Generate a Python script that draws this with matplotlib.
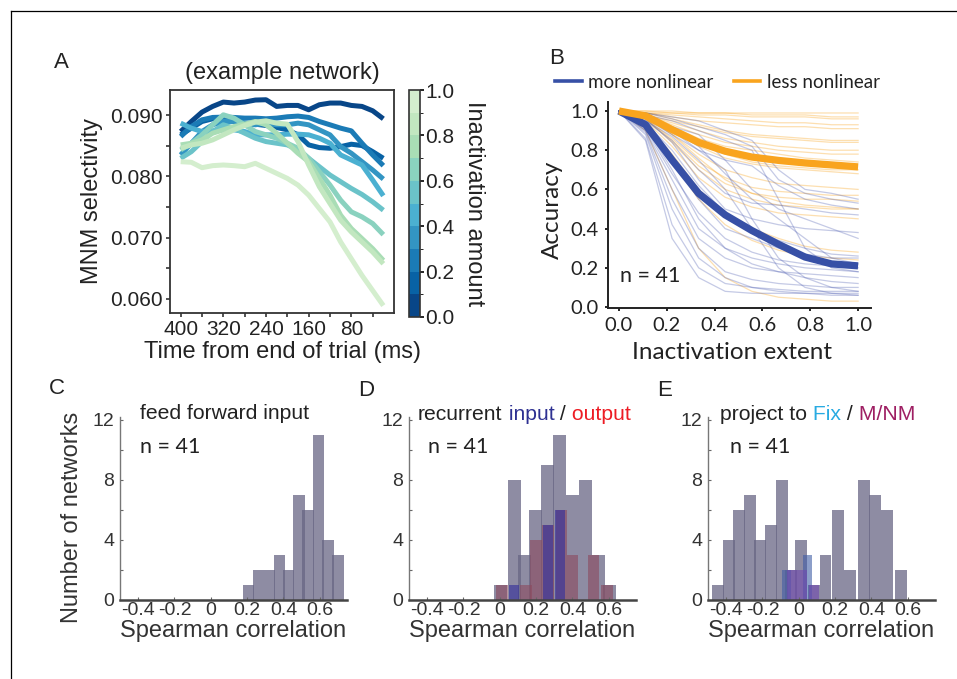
import numpy as np
import matplotlib
matplotlib.use("Agg")
import matplotlib.pyplot as plt
from matplotlib.colors import ListedColormap, BoundaryNorm
from matplotlib.lines import Line2D
import matplotlib.colorbar as mcolorbar

plt.rcParams['font.family'] = ['Liberation Sans', 'DejaVu Sans']
plt.rcParams['axes.unicode_minus'] = False

# ---------------- panel A data: selectivity over time per inactivation level
times = [400, 380, 360, 340, 320, 300, 280, 260, 240, 220,
         200, 180, 160, 140, 120, 100, 80, 60, 40, 20]
inact_levels = [0.0, 0.1, 0.2, 0.3, 0.4, 0.5, 0.6, 0.7, 0.8, 0.9]
sel_00 = [0.08732, 0.08896, 0.09049, 0.09142, 0.09213, 0.09197, 0.09213, 0.09246, 0.09251, 0.09142,
          0.09158, 0.09158, 0.09087, 0.09169, 0.09197, 0.09197, 0.09158, 0.09142, 0.09071, 0.08940]
sel_01 = [0.08678, 0.08787, 0.08896, 0.08940, 0.08923, 0.08896, 0.08869, 0.08852, 0.08831, 0.08798,
          0.08760, 0.08678, 0.08514, 0.08470, 0.08459, 0.08486, 0.08525, 0.08503, 0.08404, 0.08295]
sel_02 = [0.08650, 0.08814, 0.08923, 0.08962, 0.08967, 0.08962, 0.08951, 0.08951, 0.08940, 0.08951,
          0.08973, 0.08984, 0.08962, 0.08896, 0.08842, 0.08787, 0.08743, 0.08541, 0.08350, 0.08175]
sel_03 = [0.08350, 0.08541, 0.08732, 0.08842, 0.08896, 0.08896, 0.08869, 0.08842, 0.08869, 0.08842,
          0.08842, 0.08869, 0.08842, 0.08760, 0.08678, 0.08486, 0.08377, 0.08240, 0.08104, 0.07956]
sel_04 = [0.08869, 0.08787, 0.08732, 0.08743, 0.08760, 0.08760, 0.08732, 0.08678, 0.08678, 0.08678,
          0.08689, 0.08689, 0.08678, 0.08623, 0.08541, 0.08350, 0.08268, 0.08186, 0.07940, 0.07683]
sel_05 = [0.08295, 0.08404, 0.08568, 0.08732, 0.08842, 0.08787, 0.08705, 0.08623, 0.08568, 0.08541,
          0.08514, 0.08432, 0.08295, 0.08158, 0.08022, 0.07913, 0.07803, 0.07705, 0.07585, 0.07448]
sel_06 = [0.08432, 0.08541, 0.08678, 0.08842, 0.09005, 0.08951, 0.08842, 0.08732, 0.08678, 0.08623,
          0.08541, 0.08459, 0.08295, 0.08077, 0.07858, 0.07612, 0.07421, 0.07339, 0.07230, 0.07049]
sel_07 = [0.08514, 0.08541, 0.08596, 0.08705, 0.08760, 0.08814, 0.08852, 0.08896, 0.08842, 0.08705,
          0.08541, 0.08377, 0.08240, 0.07967, 0.07694, 0.07366, 0.07148, 0.06984, 0.06820, 0.06628]
sel_08 = [0.08459, 0.08514, 0.08541, 0.08596, 0.08678, 0.08760, 0.08831, 0.08885, 0.08907, 0.08869,
          0.08852, 0.08568, 0.08186, 0.07831, 0.07557, 0.07284, 0.07093, 0.06929, 0.06765, 0.06574]
sel_09 = [0.08240, 0.08230, 0.08142, 0.08175, 0.08186, 0.08175, 0.08158, 0.08213, 0.08131, 0.08049,
          0.07967, 0.07858, 0.07694, 0.07475, 0.07257, 0.06929, 0.06656, 0.06383, 0.06137, 0.05891]
sel_lines = [sel_00, sel_01, sel_02, sel_03, sel_04, sel_05, sel_06, sel_07, sel_08, sel_09]

# ---------------- panel B data: accuracy vs inactivation extent
extent = [0.0, 0.111, 0.222, 0.333, 0.444, 0.556, 0.667, 0.778, 0.889, 1.0]
more_mean = [1.0, 0.93, 0.75, 0.58, 0.47, 0.39, 0.32, 0.255, 0.22, 0.21]
less_mean = [1.0, 0.975, 0.905, 0.84, 0.795, 0.765, 0.748, 0.735, 0.725, 0.715]
more_nets = [
    [1, .97, .90, .80, .75, .72, .62, .55, .52, .50],
    [1, .95, .85, .70, .58, .53, .52, .50, .48, .47],
    [1, .90, .60, .35, .25, .20, .18, .17, .16, .15],
    [1, .85, .35, .15, .08, .07, .07, .07, .07, .07],
    [1, .88, .50, .25, .15, .10, .08, .07, .06, .06],
    [1, .92, .70, .45, .30, .22, .18, .15, .13, .12],
    [1, .96, .88, .80, .70, .45, .25, .15, .10, .08],
    [1, .98, .95, .90, .85, .80, .55, .30, .20, .18],
    [1, .93, .75, .55, .40, .35, .30, .27, .25, .25],
    [1, .90, .65, .40, .30, .25, .22, .20, .19, .18],
    [1, .97, .92, .88, .75, .60, .50, .45, .40, .35],
    [1, .94, .80, .62, .48, .40, .34, .30, .27, .26],
    [1, .86, .42, .20, .12, .10, .09, .08, .08, .08],
    [1, .95, .87, .75, .60, .40, .20, .10, .07, .06],
    [1, .99, .97, .95, .90, .85, .70, .60, .58, .55],
    [1, .91, .68, .48, .35, .28, .24, .22, .21, .20],
    [1, .97, .90, .82, .68, .55, .45, .35, .25, .22],
    [1, .89, .55, .30, .18, .14, .12, .11, .10, .10],
    [1, .96, .84, .65, .50, .45, .42, .40, .39, .38],
    [1, .99, .96, .92, .88, .82, .65, .58, .55, .53],
]
less_nets = [
    [1, 1.0, .99, .99, .99, .99, .99, .99, .99, .99],
    [1, 1.0, 1.0, .99, .99, .98, .98, .98, .97, .97],
    [1, .99, .99, .98, .98, .97, .97, .97, .96, .96],
    [1, .99, .97, .95, .94, .93, .92, .92, .91, .91],
    [1, .99, .96, .93, .90, .88, .87, .86, .85, .85],
    [1, .98, .94, .90, .86, .84, .82, .81, .80, .80],
    [1, .98, .92, .86, .82, .80, .78, .76, .75, .74],
    [1, .97, .90, .82, .76, .73, .71, .70, .69, .68],
    [1, .97, .88, .78, .70, .66, .63, .62, .61, .60],
    [1, .96, .85, .72, .63, .58, .56, .55, .55, .54],
    [1, .96, .84, .70, .60, .55, .52, .51, .50, .50],
    [1, .97, .88, .76, .65, .58, .54, .52, .51, .50],
    [1, .95, .82, .66, .56, .51, .48, .47, .46, .45],
    [1, .94, .78, .60, .48, .40, .35, .31, .29, .28],
    [1, .93, .74, .55, .42, .34, .29, .26, .25, .24],
    [1, .90, .60, .30, .15, .08, .05, .04, .03, .03],
    [1, .99, .98, .97, .96, .95, .94, .94, .93, .93],
    [1, .98, .95, .92, .89, .87, .86, .85, .84, .84],
    [1, .97, .91, .84, .78, .74, .72, .71, .70, .70],
    [1, .96, .86, .74, .66, .61, .59, .58, .57, .57],
    [1, .98, .93, .88, .84, .82, .80, .79, .78, .78],
]

# ---------------- panels C-E data: histogram bars (bin centre, count)
ff_centers = [0.207, 0.263, 0.323, 0.379, 0.429, 0.485, 0.536, 0.593, 0.646, 0.701]
ff_counts = [1, 2, 2, 3, 2, 7, 6, 11, 4, 3]

rec_centers = [0.004, 0.079, 0.135, 0.197, 0.262, 0.329, 0.401, 0.472, 0.543, 0.604]
rec_counts = [1, 8, 3, 6, 9, 11, 7, 8, 3, 1]
rec_out_centers = [0.012, 0.144, 0.200, 0.265, 0.340, 0.400, 0.517, 0.590]
rec_out_counts = [1, 1, 4, 5, 6, 3, 3, 1]
rec_in_centers = [0.079, 0.265, 0.332]
rec_in_counts = [1, 5, 6]

proj_centers = [-0.446, -0.383, -0.328, -0.268, -0.212, -0.155, -0.094, -0.043, 0.012,
                0.082, 0.147, 0.217, 0.283, 0.357, 0.418, 0.487, 0.564]
proj_counts = [1, 4, 6, 7, 4, 5, 8, 2, 4, 1, 3, 6, 2, 8, 7, 6, 2]
fix_centers = [-0.07, 0.046]
fix_counts = [2, 3]
mnm_centers = [-0.038, 0.015, 0.082]
mnm_counts = [2, 2, 1]

corr_ticks = [-0.4, -0.2, 0, 0.2, 0.4, 0.6]
corr_ticklabels = ['-0.4', '-0.2', '0', '0.2', '0.4', '0.6']

# ---------------- figure
W, H = 957, 679
fig = plt.figure(figsize=(W / 100, H / 100), dpi=100)


def box(l, t, r, b):
    return [l / W, 1 - b / H, (r - l) / W, (b - t) / H]


# outer frame (top and left edges visible)
fig.add_artist(Line2D([11 / W, 11 / W], [0, 1 - 11 / H], color='black', lw=0.9))
fig.add_artist(Line2D([11 / W, 1], [1 - 11 / H, 1 - 11 / H], color='black', lw=0.9))

txt_dark = '#222222'
lato = ['Lato', 'DejaVu Sans']

# ---------- A
axA = fig.add_axes(box(170, 90, 394, 313))
band_colors = plt.cm.GnBu(np.linspace(0.98, 0.2, 10))
for i, vals in enumerate(sel_lines):
    axA.plot(times, vals, color=band_colors[i], lw=3.6, solid_capstyle='butt')
axA.set_xlim(420, 0)
axA.set_ylim(0.0577, 0.0941)
axA.set_xticks([400, 320, 240, 160, 80])
axA.set_xticks([360, 280, 200, 120, 40], minor=True)
axA.set_yticks([0.060, 0.070, 0.080, 0.090])
axA.set_yticklabels(['0.060', '0.070', '0.080', '0.090'])
axA.set_yticks([0.065, 0.075, 0.085], minor=True)
axA.tick_params(which='both', direction='out', length=3, width=1.2, colors='#333333',
                labelsize=15, labelcolor=txt_dark, pad=2)
for s in axA.spines.values():
    s.set_color('#333333')
    s.set_linewidth(1.3)
axA.set_title('(example network)', fontsize=17, color=txt_dark, pad=8)
axA.set_ylabel('MNM selectivity', fontsize=17, color=txt_dark)
axA.yaxis.set_label_coords(-0.30, 0.5)
axA.set_xlabel('Time from end of trial (ms)', fontsize=17, color=txt_dark)
axA.xaxis.set_label_coords(0.5, -0.125)

caxA = fig.add_axes(box(409, 90, 420, 317))
cmap = ListedColormap(band_colors)
norm = BoundaryNorm(np.linspace(0, 1, 11), cmap.N)
cb = mcolorbar.ColorbarBase(caxA, cmap=cmap, norm=norm, ticks=[0, 0.2, 0.4, 0.6, 0.8, 1.0])
cb.set_ticklabels(['0.0', '0.2', '0.4', '0.6', '0.8', '1.0'])
cb.outline.set_linewidth(1.2)
cb.outline.set_edgecolor('#333333')
caxA.tick_params(direction='out', length=3, width=1.2, labelsize=15, labelcolor=txt_dark, pad=1)
caxA.text(5.9, 0.5, 'Inactivation amount', transform=caxA.transAxes, rotation=270,
          ha='center', va='center', fontsize=17, color=txt_dark)
fig.text(61 / W, 1 - 62 / H, 'A', fontsize=16, ha='center', va='center', color=txt_dark)

# ---------- B
axB = fig.add_axes(box(608, 102, 871, 308))
blue = '#3750a6'
orange = '#f9a41e'
for vals in less_nets:
    axB.plot(extent, vals, color=orange, lw=0.9, alpha=0.35)
for vals in more_nets:
    axB.plot(extent, vals, color='#4a5ab0', lw=0.9, alpha=0.32)
axB.plot(extent, more_mean, color=blue, lw=5.2, solid_capstyle='butt')
axB.plot(extent, less_mean, color=orange, lw=5.2, solid_capstyle='butt')
axB.set_xlim(-0.046, 1.054)
axB.set_ylim(-0.005, 1.046)
axB.set_xticks([0, 0.2, 0.4, 0.6, 0.8, 1.0])
axB.set_xticklabels(['0.0', '0.2', '0.4', '0.6', '0.8', '1.0'], family=lato)
axB.set_yticks([0, 0.2, 0.4, 0.6, 0.8, 1.0])
axB.set_yticklabels(['0.0', '0.2', '0.4', '0.6', '0.8', '1.0'], family=lato)
axB.spines['top'].set_visible(False)
axB.spines['right'].set_visible(False)
for s in ('left', 'bottom'):
    axB.spines[s].set_linewidth(1.4)
    axB.spines[s].set_color('#222222')
axB.tick_params(direction='out', length=2.5, width=1.2, labelsize=14.5, labelcolor=txt_dark, pad=4)
axB.set_ylabel('Accuracy', fontsize=17.5, color=txt_dark, family=lato)
axB.yaxis.set_label_coords(-0.17, 0.476)
axB.set_xlabel('Inactivation extent', fontsize=17.5, color=txt_dark, family=lato)
axB.xaxis.set_label_coords(0.47, -0.165)
axB.text(0.045, 0.125, 'n = 41', transform=axB.transAxes, fontsize=15.5, color=txt_dark, family=lato)
axB.legend(handles=[Line2D([], [], color=blue, lw=2.6), Line2D([], [], color=orange, lw=2.6)],
           labels=['more nonlinear', 'less nonlinear'], ncol=2, loc='center left',
           bbox_to_anchor=(-0.2, 1.097), frameon=False, handlelength=1.4, handletextpad=0.35,
           columnspacing=1.1, borderaxespad=0, borderpad=0,
           prop={'family': lato, 'size': 13.5}, labelcolor=txt_dark)
fig.text(557 / W, 1 - 58 / H, 'B', fontsize=16, ha='center', va='center', color=txt_dark)

# ---------- C, D, E
gray = '#686684'
hist_txt = '#333333'


def hist_axes(left):
    ax = fig.add_axes(box(left, 417, left + 227, 600))
    ax.set_xlim(-0.5, 0.75)
    ax.set_ylim(0, 12.2)
    ax.set_xticks(corr_ticks)
    ax.set_xticklabels(corr_ticklabels)
    ax.set_yticks([0, 4, 8, 12])
    ax.set_yticks([2, 6, 10], minor=True)
    ax.spines['top'].set_visible(False)
    ax.spines['right'].set_visible(False)
    ax.spines['left'].set_color('#777777')
    ax.spines['left'].set_linewidth(1.0)
    ax.spines['bottom'].set_color('#444444')
    ax.spines['bottom'].set_linewidth(1.8)
    ax.tick_params(which='both', direction='in', length=2.5, width=0.8, colors='#666666',
                   labelsize=14, labelcolor=hist_txt)
    ax.tick_params(axis='x', pad=1.5)
    ax.tick_params(axis='y', pad=4)
    ax.set_xlabel('Spearman correlation', fontsize=17, color=hist_txt)
    ax.xaxis.set_label_coords(0.5, -0.108)
    return ax


def color_title(ax, x, y, parts):
    prev = ax.text(x, y, parts[0][0], color=parts[0][1], transform=ax.transAxes,
                   fontsize=15.2, va='baseline')
    for s, c in parts[1:]:
        prev = ax.annotate(s, xycoords=prev, xy=(1, 0), va='bottom', color=c, fontsize=15.2)


axC = hist_axes(120)
axC.bar(ff_centers, ff_counts, width=0.063, color=gray, alpha=0.75, linewidth=0)
axC.set_ylabel('Number of networks', fontsize=17, color=hist_txt)
axC.yaxis.set_label_coords(-0.165, 0.45)
color_title(axC, 0.088, 0.99, [('feed forward input', txt_dark)])
axC.text(0.088, 0.805, 'n = 41', transform=axC.transAxes, fontsize=15.5, color=txt_dark, family=lato)
fig.text(57 / W, 1 - 388 / H, 'C', fontsize=16, ha='center', va='center', color=txt_dark)

axD = hist_axes(409)
axD.bar(rec_centers, rec_counts, width=0.072, color=gray, alpha=0.75, linewidth=0)
axD.bar(rec_out_centers, rec_out_counts, width=0.062, color='#8c495d', alpha=0.6, linewidth=0)
axD.bar(rec_in_centers, rec_in_counts, width=0.058, color='#37329b', alpha=0.65, linewidth=0)
color_title(axD, 0.04, 0.985, [('recurrent', txt_dark), (' input', '#2e3192'),
                               (' /', txt_dark), (' output', '#ed1c24')])
axD.text(0.084, 0.805, 'n = 41', transform=axD.transAxes, fontsize=15.5, color=txt_dark, family=lato)
fig.text(366 / W, 1 - 391 / H, 'D', fontsize=16, ha='center', va='center', color=txt_dark)

axE = hist_axes(708)
axE.bar(proj_centers, proj_counts, width=0.066, color=gray, alpha=0.75, linewidth=0)
axE.bar(fix_centers, fix_counts, width=0.05, color='#405da6', alpha=0.6, linewidth=0)
axE.bar(mnm_centers, mnm_counts, width=0.055, color='#7048b0', alpha=0.6, linewidth=0)
color_title(axE, 0.053, 0.985, [('project to', txt_dark), (' Fix', '#29abe2'),
                                (' /', txt_dark), (' M/NM', '#9e1f63')])
axE.text(0.097, 0.805, 'n = 41', transform=axE.transAxes, fontsize=15.5, color=txt_dark, family=lato)
fig.text(665 / W, 1 - 391 / H, 'E', fontsize=16, ha='center', va='center', color=txt_dark)

fig.savefig('out.png', dpi=100)
